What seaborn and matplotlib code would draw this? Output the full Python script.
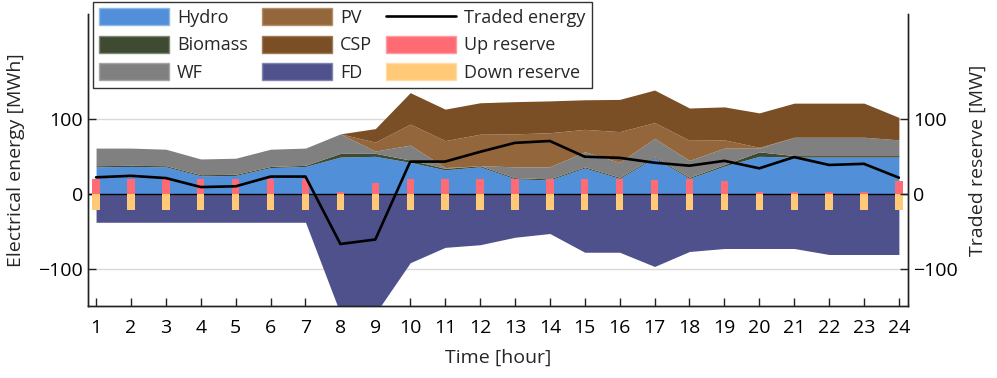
import numpy as np
import pandas as pd
import matplotlib
matplotlib.use("Agg")
import matplotlib.pyplot as plt
from matplotlib.patches import Patch
from matplotlib.lines import Line2D
import seaborn as sns

# hourly values
hours = list(range(1, 25))
hydro = [36, 36.5, 36, 24, 24.5, 35, 36.5, 49, 50, 42, 32, 36, 20, 18.5, 34.5, 20.5,
         48, 20.5, 37, 50, 49, 49, 49, 49]
biomass = [1.5, 1.5, 1.5, 1.5, 1.5, 1.5, 1.5, 5, 4, 3, 2, 1.5, 1.5, 1.5, 1.5, 1.5,
           1.5, 1.5, 2, 6, 2, 2, 2, 2]
wf = [23.5, 23, 22, 21, 21.5, 23, 23, 26, 3, 20, 1, 0, 14.5, 16, 20, 20,
      24.5, 22.5, 22, 5, 24.5, 24.5, 24.5, 21]
pv = [0, 0, 0, 0, 0, 0, 0, 0, 12, 28, 36, 42, 44, 45.5, 30, 41,
      21, 27, 11, 1, 0, 0, 0, 0]
csp = [0, 0, 0, 0, 0, 0, 0, 0, 18, 42, 42, 42, 43, 42.5, 39.5, 43,
       43.5, 43, 44, 46, 45.5, 45.5, 45.5, 30]
fd = [-38, -38, -38, -38, -38, -38, -38, -160, -160, -92, -71.5, -68, -58, -53, -78, -78,
      -97, -77, -73, -73, -73, -81, -81, -81]
traded = [22, 24, 21, 9, 10, 23, 23, -67, -61, 43, 43, 56, 68, 70.5, 49.5, 48,
          41.5, 37.5, 44, 34, 49, 38.5, 40, 21.5]
up_reserve = [20, 20, 20, 20, 20, 20, 20, 2.5, 14.5, 20, 20, 20, 20, 20, 19.5, 20,
              19, 20, 17, 2, 2, 2, 2, 17]
down_reserve = [-22] * 24

COLORS = {
    "Hydro": "#5190D8",
    "Biomass": "#3F4A33",
    "WF": "#808080",
    "PV": "#93663C",
    "CSP": "#7B4F25",
    "FD": "#4F518C",
    "Up reserve": "#FF6B74",
    "Down reserve": "#FFC977",
}

sns.set_theme(style="ticks")
plt.rcParams["font.family"] = ["Open Sans", "DejaVu Sans"]

fig, ax = plt.subplots(figsize=(9.97, 3.78), dpi=100)
fig.subplots_adjust(left=0.0883, right=0.9107, bottom=0.19, top=0.963)

ax.yaxis.grid(True, color="#D9D9D9", linewidth=1, zorder=0)
ax.set_axisbelow(True)

ax.stackplot(hours, hydro, biomass, wf, pv, csp,
             colors=[COLORS[k] for k in ["Hydro", "Biomass", "WF", "PV", "CSP"]],
             linewidth=0, zorder=1)
ax.fill_between(hours, 0, fd, color=COLORS["FD"], linewidth=0, zorder=1)
ax.axhline(0, color="black", linewidth=1, zorder=1.5)

ax.bar(hours, up_reserve, width=0.21, color=COLORS["Up reserve"], linewidth=0, zorder=2)
ax.bar(hours, down_reserve, width=0.21, color=COLORS["Down reserve"], linewidth=0, zorder=2)

df = pd.DataFrame({"hour": hours, "traded": traded})
sns.lineplot(data=df, x="hour", y="traded", color="black", linewidth=1.9, ax=ax, zorder=4)

ax.set_xlim(0.77, 24.26)
ax.set_ylim(-150, 240)
ax.set_xticks(hours)
ax.set_yticks([-100, 0, 100])
ax.set_xlabel("Time [hour]", fontsize=14, labelpad=9)
ax.set_ylabel("Electrical energy [MWh]", fontsize=14, labelpad=10)
ax.tick_params(axis="both", direction="in", length=6, width=1, labelsize=14,
               colors="#222222", labelcolor="black")
ax.tick_params(axis="x", pad=9)

ax2 = ax.twinx()
ax2.set_ylim(-150, 240)
ax2.set_yticks([-100, 0, 100])
ax2.set_ylabel("Traded reserve [MW]", fontsize=14, labelpad=8)
ax2.tick_params(axis="y", direction="in", length=6, width=1, labelsize=14,
                colors="#222222", labelcolor="black")

for a in (ax, ax2):
    a.spines["top"].set_visible(False)
    for s in ("left", "right", "bottom"):
        a.spines[s].set_color("#222222")
        a.spines[s].set_linewidth(1)

handles = [
    Patch(facecolor=COLORS["Hydro"], edgecolor="#8DB8EA"),
    Patch(facecolor=COLORS["Biomass"], edgecolor="#7F8A73"),
    Patch(facecolor=COLORS["WF"], edgecolor="#A6A6A6"),
    Patch(facecolor=COLORS["PV"], edgecolor="#B38F6C"),
    Patch(facecolor=COLORS["CSP"], edgecolor="#A07A55"),
    Patch(facecolor=COLORS["FD"], edgecolor="#8385B0"),
    Line2D([0], [0], color="black", linewidth=1.9),
    Patch(facecolor=COLORS["Up reserve"], edgecolor="#FF9AA1"),
    Patch(facecolor=COLORS["Down reserve"], edgecolor="#FFDCA6"),
]
labels = ["Hydro", "Biomass", "WF", "PV", "CSP", "FD",
          "Traded energy", "Up reserve", "Down reserve"]
leg = fig.legend(handles, labels, ncol=3, loc="upper left",
                 bbox_to_anchor=(93 / 997, 1 - 2 / 378), borderaxespad=0,
                 fontsize=13, frameon=True, fancybox=False, framealpha=1,
                 edgecolor="#333333", handlelength=3.85, handleheight=1.05,
                 handletextpad=0.45, columnspacing=0.8, labelspacing=0.5,
                 borderpad=0.35)
leg.get_frame().set_linewidth(1)

fig.savefig("out.png", dpi=100)
